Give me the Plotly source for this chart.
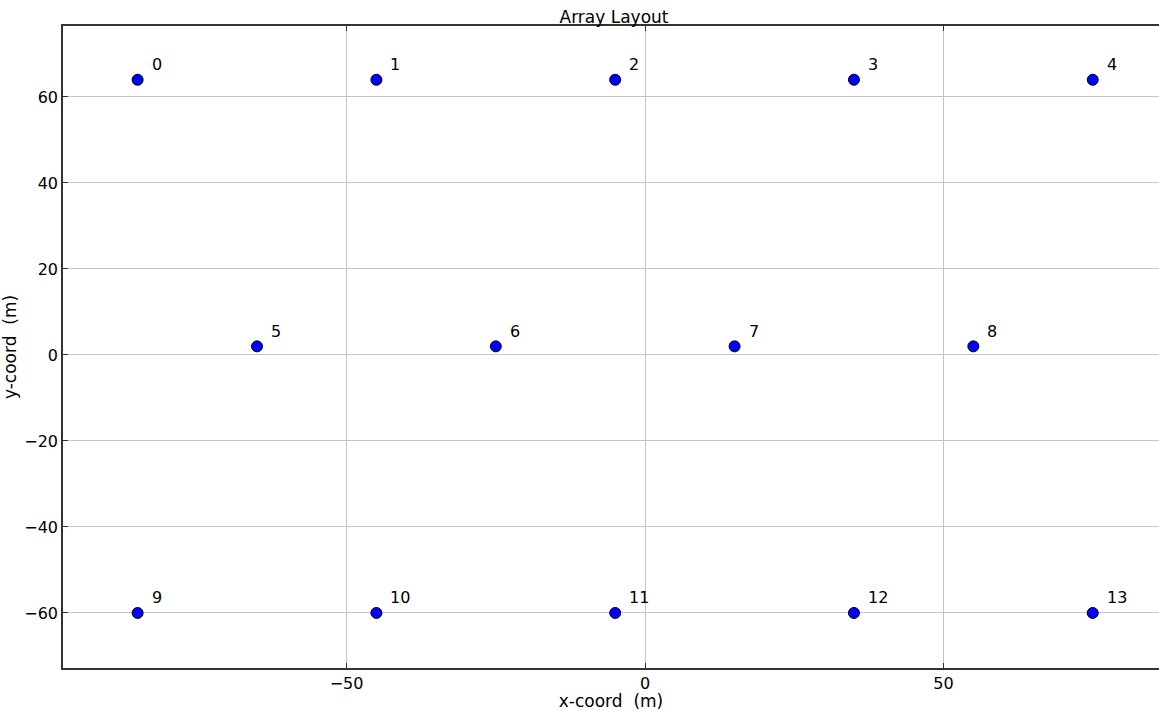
import plotly.graph_objects as go

x_coords = [-85, -45, -5, 35, 75, -65, -25, 15, 55, -85, -45, -5, 35, 75]
y_coords = [64, 64, 64, 64, 64, 2, 2, 2, 2, -60, -60, -60, -60, -60]
labels = [str(i) for i in range(14)]

x_ticks = [-50, 0, 50]
y_ticks = [-60, -40, -20, 0, 20, 40, 60]

FONT = "DejaVu Sans"

fig = go.Figure()
fig.add_trace(go.Scatter(
    x=x_coords, y=y_coords, mode="markers",
    marker=dict(size=11, color="blue", line=dict(color="black", width=1)),
    hoverinfo="skip", showlegend=False,
))

for xv, yv, t in zip(x_coords, y_coords, labels):
    fig.add_annotation(x=xv, y=yv, text=t, showarrow=False,
                       xanchor="left", yanchor="middle",
                       xshift=12, yshift=15,
                       font=dict(family=FONT, size=16, color="black"))

axis_common = dict(
    showgrid=True, gridcolor="#c6c6c6", gridwidth=1,
    zeroline=False, showline=True, linecolor="#333333", linewidth=1.5,
    ticks="inside", ticklen=5, tickcolor="#333333", tickwidth=1,
    tickfont=dict(family=FONT, size=16, color="black"),
)

fig.update_xaxes(range=[-97.5, 86.1], tickvals=x_ticks, mirror="ticks",
                 title=dict(text="x-coord\u00a0\u00a0(m)", standoff=4,
                            font=dict(family=FONT, size=17, color="black")),
                 **axis_common)
fig.update_yaxes(range=[-72.8, 76.5], tickvals=y_ticks, mirror=False,
                 title=dict(text="y-coord\u00a0\u00a0(m)", standoff=8,
                            font=dict(family=FONT, size=17, color="black")),
                 **axis_common)

fig.update_layout(
    width=1159, height=711,
    margin=dict(l=63, r=0, t=26, b=43),
    paper_bgcolor="white", plot_bgcolor="white",
    title=dict(text="Array Layout", x=(614 - 63) / 1096, xref="paper",
               xanchor="center", y=1 - 17 / 711, yanchor="middle",
               font=dict(family=FONT, size=17, color="black")),
    font=dict(family=FONT),
)

fig.write_html("out.html")
